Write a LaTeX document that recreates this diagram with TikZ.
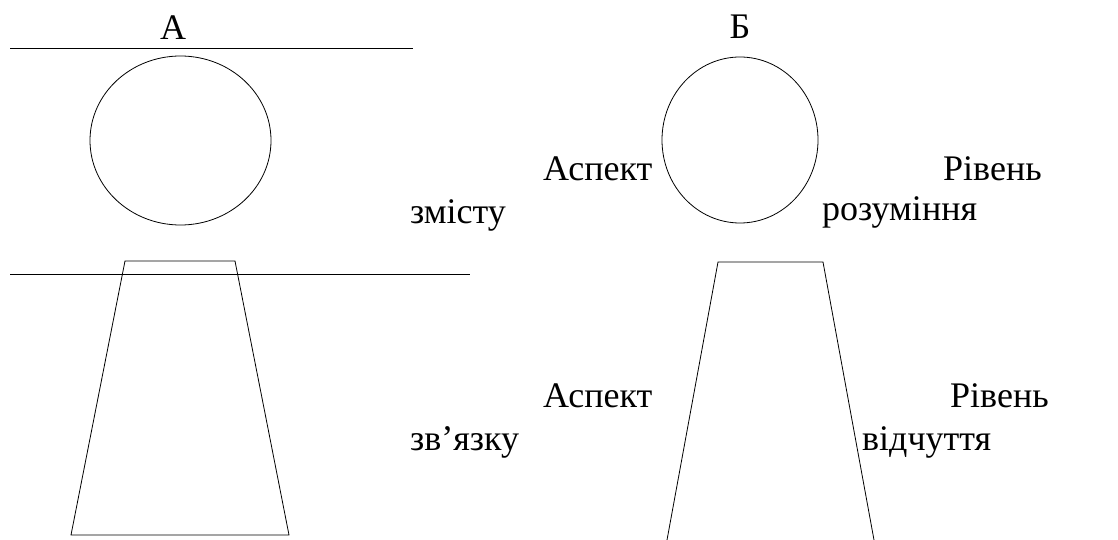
\documentclass[tikz,border=0pt]{standalone}
\usepackage{fontspec}
\setmainfont{Liberation Serif}
\begin{document}
\begin{tikzpicture}[x=1pt,y=-1pt,
  shape line/.style={draw=black,line width=0.8pt,line join=miter},
  lbl/.style={inner sep=0pt,font=\fontsize{36}{43}\selectfont,text=black}]
\useasboundingbox (0,0) rectangle (1118,540);
% --- A ---
\draw[shape line] (10,48) -- (413,48);
\node[lbl,anchor=base] (labA) at (173,40) {А};
\draw[shape line] (180.5,140.5) ellipse [x radius=90.5, y radius=84.5];
\draw[shape line] (125,261) -- (235,261) -- (289,535) -- (71,535) -- cycle;
\draw[shape line] (10,274) -- (470,274);
\node[lbl,anchor=base west] (zmistu) at (410,223) {змісту};
\node[lbl,anchor=base west] (zvyazku) at (410,450) {зв’язку};
% --- B ---
\node[lbl,anchor=base] (labB) at (740,39) {Б};
\draw[shape line] (740,140) ellipse [x radius=78, y radius=83];
\draw[shape line] (667,540) -- (718,262) -- (823,262) -- (874,540);
\node[lbl,anchor=base west] (asp1) at (543,181) {Аспект};
\node[lbl,anchor=base west] (riv1) at (943,181) {Рівень};
\node[lbl,anchor=base west] (rozum) at (822,220) {розуміння};
\node[lbl,anchor=base west] (asp2) at (543,407) {Аспект};
\node[lbl,anchor=base west] (riv2) at (950,407) {Рівень};
\node[lbl,anchor=base west] (vidch) at (862,450) {відчуття};
\end{tikzpicture}
\end{document}
